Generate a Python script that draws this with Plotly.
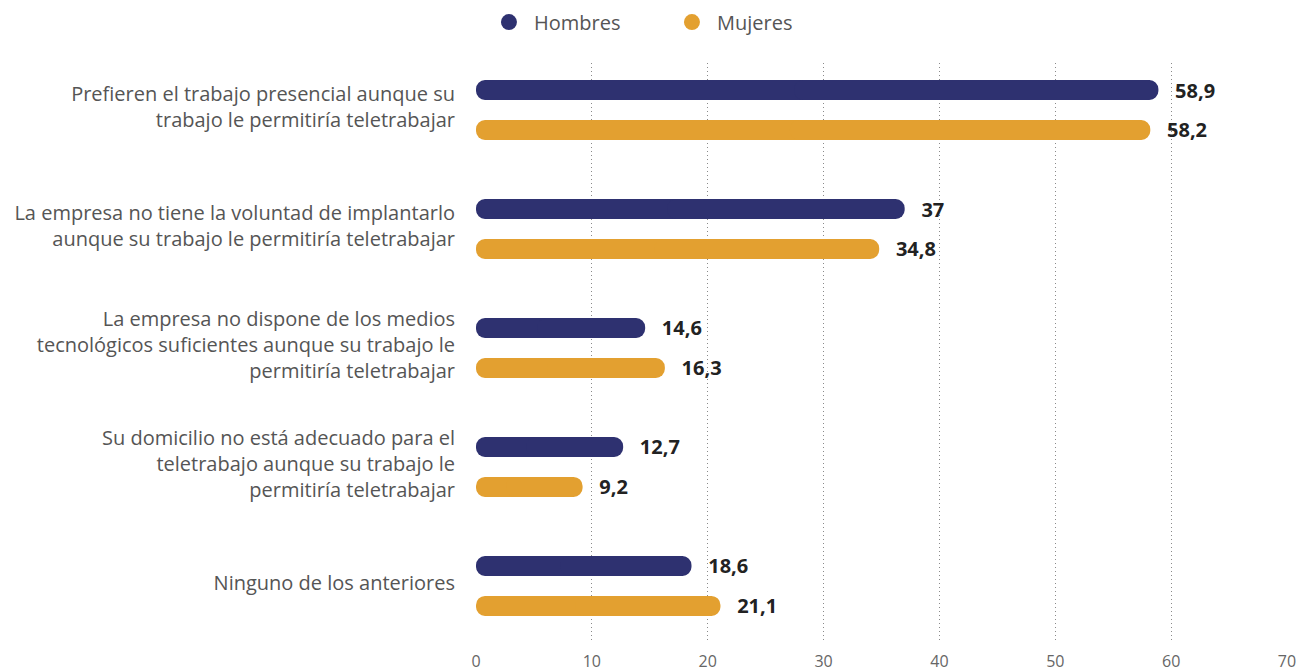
import plotly.graph_objects as go

categorias = [
    "Prefieren el trabajo presencial aunque su<br>trabajo le permitiría teletrabajar",
    "La empresa no tiene la voluntad de implantarlo<br>aunque su trabajo le permitiría teletrabajar",
    "La empresa no dispone de los medios<br>tecnológicos suficientes aunque su trabajo le<br>permitiría teletrabajar",
    "Su domicilio no está adecuado para el<br>teletrabajo aunque su trabajo le<br>permitiría teletrabajar",
    "Ninguno de los anteriores",
]
hombres = [58.9, 37, 14.6, 12.7, 18.6]
mujeres = [58.2, 34.8, 16.3, 9.2, 21.1]
etiquetas_x = [0, 10, 20, 30, 40, 50, 60, 70]

NAVY = "#2e3170"
ORANGE = "#e3a030"
FONT = "Open Sans"
OVERLAP = 2  # data units shared by the two halves of a pill

fig = go.Figure()

# every pill = two overlapping bars, one rounded at 0, one rounded at the value
for name, vals, color, offset in [
    ("Hombres", hombres, NAVY, -0.252),
    ("Mujeres", mujeres, ORANGE, 0.084),
]:
    left_end = [v / 2 + OVERLAP for v in vals]
    right_start = [v / 2 - OVERLAP for v in vals]
    fmt = ["\u00a0\u00a0\u2009" + f"{v:g}".replace(".", ",") for v in vals]
    fig.add_trace(
        go.Bar(
            y=categorias,
            x=[-e for e in left_end],
            base=left_end,
            orientation="h",
            marker=dict(color=color, cornerradius=10, line=dict(width=0)),
            offset=offset,
            width=0.168,
            showlegend=False,
            hoverinfo="skip",
        )
    )
    fig.add_trace(
        go.Bar(
            y=categorias,
            x=[v - s for v, s in zip(vals, right_start)],
            base=right_start,
            orientation="h",
            name=name,
            showlegend=False,
            marker=dict(color=color, cornerradius=10, line=dict(width=0)),
            offset=offset,
            width=0.168,
            text=fmt,
            textposition="outside",
            constraintext="none",
            cliponaxis=False,
            textfont=dict(family=FONT, size=20, color="#222222", weight="bold"),
        )
    )
    # legend-only entry
    fig.add_trace(
        go.Scatter(
            x=[None],
            y=[None],
            mode="markers",
            name=name,
            marker=dict(symbol="circle", size=20, color=color, line=dict(width=0)),
        )
    )

# page body has an 8px margin, figure coords are shifted accordingly
fig.update_layout(
    barmode="overlay",
    width=1313,
    height=672,
    margin=dict(l=468, r=34, t=55, b=40, autoexpand=False),
    plot_bgcolor="white",
    paper_bgcolor="white",
    font=dict(family=FONT, color="#555555"),
    legend=dict(
        orientation="h",
        xref="container",
        yref="container",
        x=0.3625,
        xanchor="left",
        y=0.979,
        yanchor="middle",
        font=dict(family=FONT, size=20, color="#555555"),
        traceorder="normal",
        itemsizing="trace",
        itemwidth=40,
        entrywidth=128,
        entrywidthmode="pixels",
    ),
)
fig.update_xaxes(
    range=[0, 70],
    tickvals=etiquetas_x,
    showgrid=True,
    gridcolor="#8a8a8a",
    griddash="1px,3px",
    gridwidth=1,
    zeroline=False,
    showline=False,
    ticks="",
    ticklabelstandoff=10,
    tickfont=dict(family=FONT, size=16, color="#666666"),
    fixedrange=True,
)
fig.update_yaxes(
    range=[4.454, -0.395],
    showgrid=False,
    ticks="",
    ticklabelstandoff=20,
    ticklabelshift=3,
    tickfont=dict(family=FONT, size=20, color="#555555"),
    fixedrange=True,
)

fig.write_html("out.html")
